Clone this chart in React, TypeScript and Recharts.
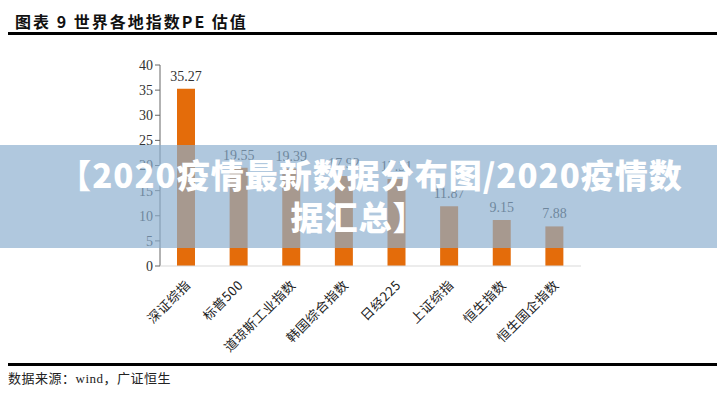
import { BarChart, Bar, XAxis, YAxis, LabelList } from "recharts";

const categories = ["深证综指", "标普500", "道琼斯工业指数", "韩国综合指数", "日经225", "上证综指", "恒生指数", "恒生国企指数"];
const peValues = [35.27, 19.55, 19.39, 17.92, 17.31, 11.87, 9.15, 7.88];
const yTicks = [0, 5, 10, 15, 20, 25, 30, 35, 40];

const data = categories.map((name, i) => ({ name, pe: peValues[i] }));

const SERIF = '"Liberation Serif", "Times New Roman", "Noto Sans CJK SC", serif';
const CJK_SERIF = '"Noto Sans CJK SC", "Liberation Serif", serif';

function AngledTick(props: any) {
  const { x, y, payload } = props;
  return (
    <text
      x={x + 5}
      y={y + 12}
      transform={`rotate(-45, ${x + 5}, ${y + 12})`}
      textAnchor="end"
      fontSize={13}
      fontFamily={CJK_SERIF}
      fill="#222"
      letterSpacing={0.5}
    >
      {payload.value}
    </text>
  );
}

export default function App() {
  return (
    <div style={{ position: "absolute", left: 0, top: 0, width: 717, height: 394, background: "#fff", overflow: "hidden" }}>
      <div
        style={{
          position: "absolute",
          left: 15,
          top: 9,
          fontFamily: CJK_SERIF,
          fontWeight: 700,
          fontSize: 16,
          color: "#111",
          letterSpacing: 2,
        }}
      >
        图表 9 世界各地指数PE 估值
      </div>
      <div style={{ position: "absolute", left: 8, top: 32, width: 709, height: 3, background: "#000" }} />

      <div style={{ position: "absolute", left: 0, top: 0 }}>
        <BarChart width={717} height={394} data={data} margin={{ top: 65, right: 136, left: 0, bottom: 0 }}>
          <YAxis
            width={160}
            domain={[0, 40]}
            ticks={yTicks}
            interval={0}
            tickLine={{ stroke: "#666" }}
            tickSize={5}
            axisLine={{ stroke: "#666" }}
            tick={{ fontSize: 14, fontFamily: SERIF, fill: "#333" }}
          />
          <XAxis
            dataKey="name"
            height={128}
            interval={0}
            tickLine={false}
            axisLine={{ stroke: "#d9d9d9" }}
            tick={<AngledTick />}
          />
          <Bar dataKey="pe" fill="#E46C0A" barSize={18} isAnimationActive={false}>
            <LabelList dataKey="pe" position="top" offset={8} fontSize={14} fontFamily={SERIF} fill="#333" />
          </Bar>
        </BarChart>
      </div>

      <div
        style={{
          position: "absolute",
          left: 0,
          top: 145,
          width: 717,
          height: 103,
          background: "rgba(139,174,206,0.68)",
          color: "#fff",
          fontFamily: '"Noto Sans CJK SC", sans-serif',
          fontWeight: 900,
          fontSize: 33,
          lineHeight: "42px",
          letterSpacing: 1,
          textAlign: "center",
          paddingTop: 8,
          boxSizing: "border-box",
        }}
      >
        <div style={{ paddingLeft: 24 }}>【2020疫情最新数据分布图/2020疫情数</div>
        <div>据汇总】</div>
      </div>

      <div style={{ position: "absolute", left: 8, top: 363, width: 709, height: 3, background: "#000" }} />
      <div
        style={{
          position: "absolute",
          left: 8,
          top: 368,
          fontFamily: SERIF,
          fontSize: 13,
          color: "#222",
          letterSpacing: 0.5,
        }}
      >
        数据来源：wind，广证恒生
      </div>
    </div>
  );
}
